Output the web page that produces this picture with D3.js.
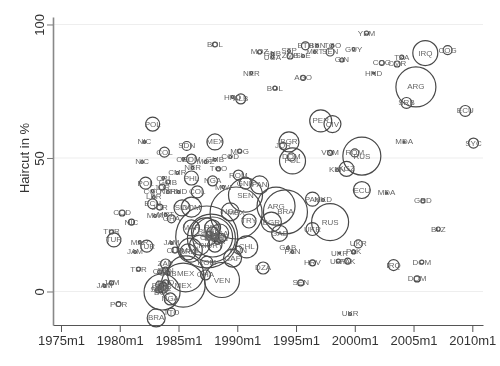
<!DOCTYPE html>
<html>
<head>
<meta charset="utf-8">
<script src="https://cdnjs.cloudflare.com/ajax/libs/d3/7.8.5/d3.min.js"></script>
<style>
body { margin: 0; background: #fff; }
#chart { width: 500px; height: 366px; filter: blur(0.4px); }
text { font-family: "Liberation Sans", Arial, sans-serif; }
</style>
</head>
<body>
<div id="chart"></div>
<script>
var x_ticks = [1975, 1980, 1985, 1990, 1995, 2000, 2005, 2010];
var y_ticks = [0, 50, 100];

var codes = ["BOL","YEM","MOZ","GNB","UGA","STP","ZMB","SLE","ETH","BEN","TGO","MRT","SEN","GIN","GUY","NER","AGO","BOL","HND","COG","CMR","TZA","IRQ","COG","ARG","SRB","ECU","PER","CIV","BGR","JOR","MDA","SYC","DOM","POL","VNM","RUS","ROM","KEN","KGZ","ECU","MDA","GRD","BLZ","PAK","MKD","RUS","UKR","UKR","UKR","PAK","URY","PAK","HRV","IRQ","DOM","DOM","SEN","UKR","GAB","PAN","DZA","CHL","VEN","CAF","HUN","BRA","TTO","NGA","JAM","JAM","POR","TUR","TUR","TUR","MAR","TUR","JAM","JAM","BOL","MEX","MEX","POL","NIC","NIC","COL","SDN","CRI","DOM","NER","MEX","MDG","COD","GMB","MOZ","TGO","NGA","MWI","HND","ALB","ROM","SEN","PAN","MEX","ARG","BRA","BGR","NGA","GNB","TRY","GAB","CRI","CMR","GMB","PHL","POL","JOR","CGO","NER","HND","COL","LBR","ECU","JOR","COD","NIC","MWI","MRT","GHA","DOM","SLV","ECU","PHL","MAR","BRA","PER","CRI","URY","NGA","ROM","GHA","CUB","PAN","BOL","SEN","HND","CRI","SEN","GNB","ZAR","CMR","SEN","GIN","LBR","TZA","ZMB","MDG","CIV","BIH","MAR"];

var dates = [1988.1,2001.0,1991.9,1993.0,1993.0,1994.4,1994.5,1995.6,1995.8,1996.8,1998.1,1996.6,1997.9,1998.9,1999.9,1991.2,1995.6,1993.2,2001.6,2002.3,2003.6,2004.0,2006.0,2007.9,2005.2,2004.4,2009.4,1997.1,1998.1,1994.4,1993.9,2004.2,2010.1,1994.6,1994.7,1997.9,2000.6,2000.0,1998.5,1999.3,2000.6,2002.7,2005.8,2007.1,1996.4,1997.3,1997.9,1996.4,2000.3,1998.7,1999.9,1998.6,1999.4,1996.4,2003.3,2005.7,2005.3,1995.4,1999.6,1994.3,1994.7,1992.2,1990.8,1988.7,1989.6,1990.1,1983.1,1984.4,1984.3,1978.7,1979.3,1979.9,1981.6,1979.3,1979.5,1981.7,1982.3,1981.3,1984.4,1983.6,1985.4,1985.6,1982.8,1982.1,1981.9,1983.8,1985.7,1985.4,1986.1,1986.2,1988.1,1990.2,1989.4,1988.1,1987.3,1988.4,1987.9,1988.8,1989.6,1990.3,1990.1,1990.7,1991.9,1989.9,1993.3,1994.1,1992.9,1989.4,1990.7,1991.0,1993.6,1983.7,1984.9,1984.1,1986.1,1982.2,1983.6,1982.8,1984.1,1985.0,1986.6,1982.9,1982.8,1983.4,1980.2,1981.0,1983.0,1983.9,1984.4,1986.1,1985.3,1987.9,1987.3,1986.0,1985.8,1987.9,1986.8,1988.1,1988.5,1987.4,1987.3,1984.7,1983.4,1983.7,1983.3,1983.9,1983.4,1983.9,1984.1,1983.9,1988.1,1987.6,1988.6,1987.9,1988.3,1983.7,1983.5,1987.4,1987.8,1986.1];

var haircuts = [92.5,96.8,89.7,89.0,87.8,90.1,88.2,88.2,92.0,92.0,92.0,89.7,89.7,86.7,90.8,81.8,80.0,76.2,81.8,85.6,85.2,87.8,89.3,90.4,76.6,70.6,67.6,63.9,62.7,56.0,54.5,56.0,55.6,50.4,48.9,51.9,50.7,51.9,45.5,45.9,38.0,36.9,33.9,23.4,34.6,34.3,26.0,23.4,17.8,14.4,14.8,11.4,11.4,10.7,9.9,11.0,4.7,3.2,-8.4,16.3,14.8,8.8,16.7,4.3,12.5,15.5,-9.9,-7.7,-2.8,2.1,3.2,-4.7,8.4,22.3,19.3,18.5,17.0,14.8,18.2,-0.2,2.4,6.6,62.7,56.0,48.5,52.2,54.5,49.6,49.6,46.3,56.0,52.6,50.4,49.3,48.5,45.9,41.4,39.1,72.8,72.1,43.6,36.1,39.9,29.4,32.0,29.8,26.0,29.8,40.6,26.4,21.8,42.5,44.4,41.0,42.5,40.6,39.1,37.6,37.3,37.3,37.3,35.4,32.8,31.6,29.4,26.0,28.3,28.7,27.2,31.6,31.3,20.4,22.3,15.5,14.8,23.8,17.4,17.4,21.9,11.0,6.2,15.5,2.4,1.3,0.6,3.2,7.3,8.0,6.9,10.3,20.2,21.5,20.0,22.0,18.8,2.0,1.0,20.4,20.0,23.8];

// debt size, drawn as circle area
var debt_size = [6,4,4,2,2,2,9,2,16,2,2,2,16,4,2,2,6,4,1,6,9,4,156,20,400,30,30,121,72,100,12,1,25,16,169,6,361,16,2,56,72,1,4,4,49,2,342,42,16,1,4,4,9,9,30,4,9,9,2,2,2,36,121,306,81,16,81,16,36,2,4,6,4,4,49,2,36,2,2,324,484,324,49,2,2,25,20,2,25,2,64,4,2,2,2,4,25,2,2,25,25,289,81,676,361,484,100,81,36,49,64,2,2,4,49,36,9,2,2,2,36,2,25,9,9,9,2,2,16,100,64,400,196,144,64,64,100,49,81,36,25,9,16,25,9,9,4,9,4,25,16,9,25,36,9,16,9,961,576,64];

var margin = { top: 17, right: 17, bottom: 41, left: 53 },
    width = 500 - margin.left - margin.right,
    height = 366 - margin.top - margin.bottom;

var svg = d3.select("#chart")
    .append("svg")
    .attr("width", 500)
    .attr("height", 366)
    .append("g")
    .attr("transform", "translate(" + margin.left + "," + margin.top + ")");

var x = d3.scaleLinear().domain([1974.32, 2010.91]).range([0, width]);
var y = d3.scaleLinear().domain([-12.55, 102.8]).range([height, 0]);
var r = d3.scaleSqrt().domain([0, 1600]).range([0, 40]);

// grid lines
svg.selectAll(".grid")
    .data(y_ticks)
    .enter().append("line")
    .attr("x1", 0)
    .attr("x2", width)
    .attr("y1", function(d) { return y(d); })
    .attr("y2", function(d) { return y(d); })
    .attr("stroke", "#eeeeee")
    .attr("stroke-width", 1.2);

var x_axis = svg.append("g")
    .attr("transform", "translate(0," + height + ")")
    .call(d3.axisBottom(x).tickValues(x_ticks).tickFormat(function(d) { return d + "m1"; }).tickSize(7).tickSizeOuter(0).tickPadding(4));
x_axis.select(".domain").attr("stroke", "#555");
x_axis.selectAll("line").attr("stroke", "#555");
x_axis.selectAll("text").attr("font-size", 13).attr("fill", "#333");

var y_axis = svg.append("g")
    .call(d3.axisLeft(y).tickValues(y_ticks).tickSize(6).tickSizeOuter(0).tickPadding(3));
y_axis.select(".domain").attr("stroke", "#888").attr("stroke-width", 1.6);
y_axis.selectAll("line").attr("stroke", "#777");
y_axis.selectAll("text")
    .attr("font-size", 13)
    .attr("fill", "#333")
    .attr("text-anchor", "middle")
    .attr("dy", 0)
    .attr("x", 0)
    .attr("y", 0)
    .attr("dominant-baseline", "central")
    .attr("transform", "translate(-14,0) rotate(-90)");

svg.append("text")
    .attr("transform", "translate(-24," + y(50) + ") rotate(-90)")
    .attr("text-anchor", "middle")
    .attr("font-size", 13)
    .attr("fill", "#333")
    .text("Haircut in %");

var idx = d3.range(codes.length).sort(function(a, b) { return debt_size[b] - debt_size[a]; });

svg.selectAll(".bubble")
    .data(idx)
    .enter().append("circle")
    .attr("cx", function(i) { return x(dates[i]); })
    .attr("cy", function(i) { return y(haircuts[i]); })
    .attr("r", function(i) { return r(debt_size[i]); })
    .attr("fill", "none")
    .attr("stroke", "#484848")
    .attr("stroke-width", 1.2);

svg.selectAll(".code")
    .data(idx)
    .enter().append("text")
    .attr("x", function(i) { return x(dates[i]); })
    .attr("y", function(i) { return y(haircuts[i]); })
    .attr("text-anchor", "middle")
    .attr("dominant-baseline", "central")
    .attr("font-size", 8)
    .attr("fill", "#666")
    .text(function(i) { return codes[i]; });
</script>
</body>
</html>
